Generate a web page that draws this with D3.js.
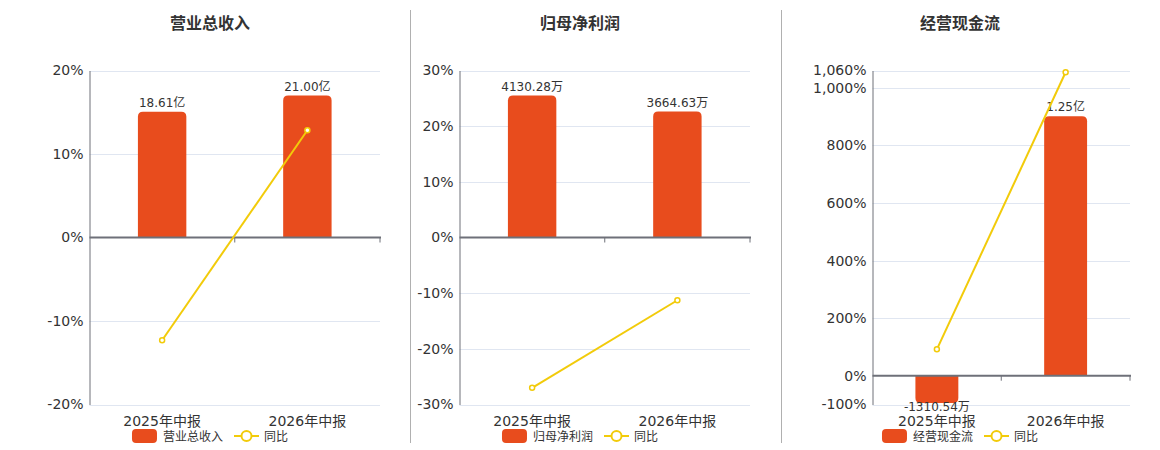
<!DOCTYPE html>
<html>
<head>
<meta charset="utf-8">
<script src="https://cdn.jsdelivr.net/npm/d3@7"></script>
<style>
  body { margin: 0; background: #fff; }
  svg { display: block; font-family: "DejaVu Sans", "Noto Sans CJK SC", sans-serif; }
</style>
</head>
<body>
<svg id="chart" width="1160" height="450"></svg>
<script>
const categories = ["2025年中报", "2026年中报"];

const revenueValues = [18.61, 21.00];
const revenueLabels = ["18.61亿", "21.00亿"];
const revenueYoy = [-12.3, 12.84];
const revenueTicks = [-20, -10, 0, 10, 20];

const profitValues = [4130.28, 3664.63];
const profitLabels = ["4130.28万", "3664.63万"];
const profitYoy = [-27.0, -11.27];
const profitTicks = [-30, -20, -10, 0, 10, 20, 30];

const cashValues = [-1310.54, 12500];
const cashLabels = ["-1310.54万", "1.25亿"];
const cashYoy = [91.7, 1053.8];
const cashTicks = [-100, 0, 200, 400, 600, 800, 1000, 1060];

const panels = [
  { title: "营业总收入", values: revenueValues, labels: revenueLabels, yoy: revenueYoy, ticks: revenueTicks, x0: 89.5, x1: 380, cx: 210 },
  { title: "归母净利润", values: profitValues, labels: profitLabels, yoy: profitYoy, ticks: profitTicks, x0: 459.5, x1: 750, cx: 580 },
  { title: "经营现金流", values: cashValues, labels: cashLabels, yoy: cashYoy, ticks: cashTicks, x0: 872.5, x1: 1130, cx: 960 }
];

const barColor = "#e84c1d",
      lineColor = "#f2cb0a",
      axisColor = "#6e7079",
      gridColor = "#e0e6f1",
      textColor = "#333";
const plotTop = 70.5, plotBottom = 404.5;

const svg = d3.select("#chart");

// panel dividers
[410.5, 781.5].forEach(x => {
  svg.append("line")
     .attr("x1", x).attr("x2", x)
     .attr("y1", 10).attr("y2", 443)
     .attr("stroke", "#b0b0b0");
});

function barPath(x, w, yA, yB, r) {
  // yA = zero end, yB = outer end (rounded)
  const dir = yB < yA ? 1 : -1;
  const h = Math.abs(yA - yB);
  r = Math.min(r, h, w / 2);
  return `M${x},${yA}L${x},${yB + dir * r}Q${x},${yB} ${x + r},${yB}` +
         `L${x + w - r},${yB}Q${x + w},${yB} ${x + w},${yB + dir * r}L${x + w},${yA}Z`;
}

const pctFormat = d => d3.format(",")(d).replace("−", "-") + "%";

panels.forEach(p => {
  const g = svg.append("g");

  const x = d3.scaleBand().domain(categories).range([p.x0, p.x1]);
  const y = d3.scaleLinear().domain(d3.extent(p.ticks)).range([plotBottom, plotTop]);
  const y0 = y(0);
  const barMax = d3.max(p.values, v => Math.abs(v)) / 0.85;
  const yBar = d3.scaleLinear().domain([0, barMax]).range([y0, plotTop]);

  // title
  g.append("text")
   .attr("x", p.cx).attr("y", 29)
   .attr("text-anchor", "middle")
   .attr("font-size", 16).attr("font-weight", "bold")
   .attr("fill", textColor)
   .text(p.title);

  // grid
  g.selectAll(".grid")
   .data(p.ticks.filter(t => t !== 0))
   .enter().append("line")
   .attr("x1", p.x0).attr("x2", p.x1)
   .attr("y1", d => Math.round(y(d)) + 0.5).attr("y2", d => Math.round(y(d)) + 0.5)
   .attr("stroke", gridColor);

  // y axis
  const ax = g.append("g")
    .attr("transform", `translate(${p.x0},0)`)
    .call(d3.axisLeft(y).tickValues(p.ticks).tickSize(0).tickPadding(6)
      .tickFormat(pctFormat));
  ax.select(".domain").attr("stroke", axisColor);
  ax.selectAll("text").attr("font-size", 14).attr("fill", textColor)
    .attr("font-family", "DejaVu Sans, Noto Sans CJK SC, sans-serif");

  // bars
  const bw = x.bandwidth() / 3;
  g.selectAll(".bar")
   .data(p.values)
   .enter().append("path")
   .attr("d", (d, i) => barPath(x(categories[i]) + (x.bandwidth() - bw) / 2, bw, y0, yBar(d), 5))
   .attr("fill", barColor);

  // bar labels
  g.selectAll(".blabel")
   .data(p.values)
   .enter().append("text")
   .attr("x", (d, i) => x(categories[i]) + x.bandwidth() / 2)
   .attr("y", d => d >= 0 ? yBar(d) - 5 : yBar(d) + 8)
   .attr("text-anchor", "middle")
   .attr("font-size", 12)
   .attr("fill", textColor)
   .text((d, i) => p.labels[i]);

  // zero axis
  g.append("line")
   .attr("x1", p.x0).attr("x2", p.x1 + 1)
   .attr("y1", y0).attr("y2", y0)
   .attr("stroke", axisColor).attr("stroke-width", 2);
  [x(categories[1]), p.x1].forEach(t => {
    g.append("line")
     .attr("x1", t).attr("x2", t)
     .attr("y1", y0).attr("y2", y0 + 5)
     .attr("stroke", axisColor);
  });

  // category labels
  g.selectAll(".cat")
   .data(categories)
   .enter().append("text")
   .attr("x", d => x(d) + x.bandwidth() / 2)
   .attr("y", 426)
   .attr("text-anchor", "middle")
   .attr("font-size", 14)
   .attr("fill", textColor)
   .text(d => d);

  // yoy line
  const line = d3.line()
    .x((d, i) => x(categories[i]) + x.bandwidth() / 2)
    .y(d => y(d));
  g.append("path")
   .datum(p.yoy)
   .attr("d", line)
   .attr("fill", "none")
   .attr("stroke", lineColor)
   .attr("stroke-width", 2);
  g.selectAll(".pt")
   .data(p.yoy)
   .enter().append("circle")
   .attr("cx", (d, i) => x(categories[i]) + x.bandwidth() / 2)
   .attr("cy", d => y(d))
   .attr("r", 2.5)
   .attr("fill", "#fff")
   .attr("stroke", lineColor)
   .attr("stroke-width", 1.5);

  // legend
  const lg = g.append("g");
  const ly = 436;
  lg.append("rect")
    .attr("x", 0).attr("y", ly - 7)
    .attr("width", 25).attr("height", 14).attr("rx", 4)
    .attr("fill", barColor);
  const t1 = lg.append("text")
    .attr("x", 31).attr("y", ly + 4.5)
    .attr("font-size", 12).attr("fill", textColor)
    .text(p.title);
  const w1 = t1.node().getComputedTextLength();
  const lx = 31 + w1 + 11;
  lg.append("line")
    .attr("x1", lx).attr("x2", lx + 25)
    .attr("y1", ly).attr("y2", ly)
    .attr("stroke", lineColor).attr("stroke-width", 2);
  lg.append("circle")
    .attr("cx", lx + 12.5).attr("cy", ly).attr("r", 5)
    .attr("fill", "#fff").attr("stroke", lineColor).attr("stroke-width", 2);
  const t2 = lg.append("text")
    .attr("x", lx + 30).attr("y", ly + 4.5)
    .attr("font-size", 12).attr("fill", textColor)
    .text("同比");
  const total = lx + 30 + t2.node().getComputedTextLength();
  lg.attr("transform", `translate(${p.cx - total / 2},0)`);
});
</script>
</body>
</html>
